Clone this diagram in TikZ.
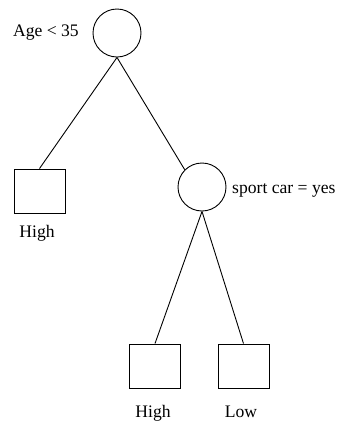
\documentclass[tikz,border=0pt]{standalone}
\usepackage{fontspec}
\setmainfont{Liberation Serif}
\begin{document}
\begin{tikzpicture}[x=1pt,y=-1pt,
  test/.style={draw,circle,line width=0.9pt,minimum size=48pt,inner sep=0pt},
  leaf/.style={draw,rectangle,line width=0.9pt,minimum width=51pt,minimum height=44pt,inner sep=0pt},
  lbl/.style={font=\fontsize{17.6}{20}\selectfont,inner sep=0pt},
  edge/.style={line width=0.9pt}]
\useasboundingbox (0,0) rectangle (337,424);
\node[test] (root) at (117,33) {};
\node[test] (car) at (202,187) {};
\node[leaf] (l1) at (39.5,191) {};
\node[leaf] (l2) at (155,366) {};
\node[leaf] (l3) at (243.5,366) {};
\node[lbl,anchor=base east] (t0) at (79,36) {Age {<} 35};
\node[lbl,anchor=base west] (t1) at (232,193) {sport car = yes};
\node[lbl,anchor=base] (t2) at (37,237) {High};
\node[lbl,anchor=base] (t3) at (153,417) {High};
\node[lbl,anchor=base] (t4) at (241,417) {Low};
\draw[edge] (root.south) -- (l1.north);
\draw[edge] (root.south) -- (car.north west);
\draw[edge] (car.south) -- (l2.north);
\draw[edge] (car.south) -- (l3.north);
\end{tikzpicture}
\end{document}
